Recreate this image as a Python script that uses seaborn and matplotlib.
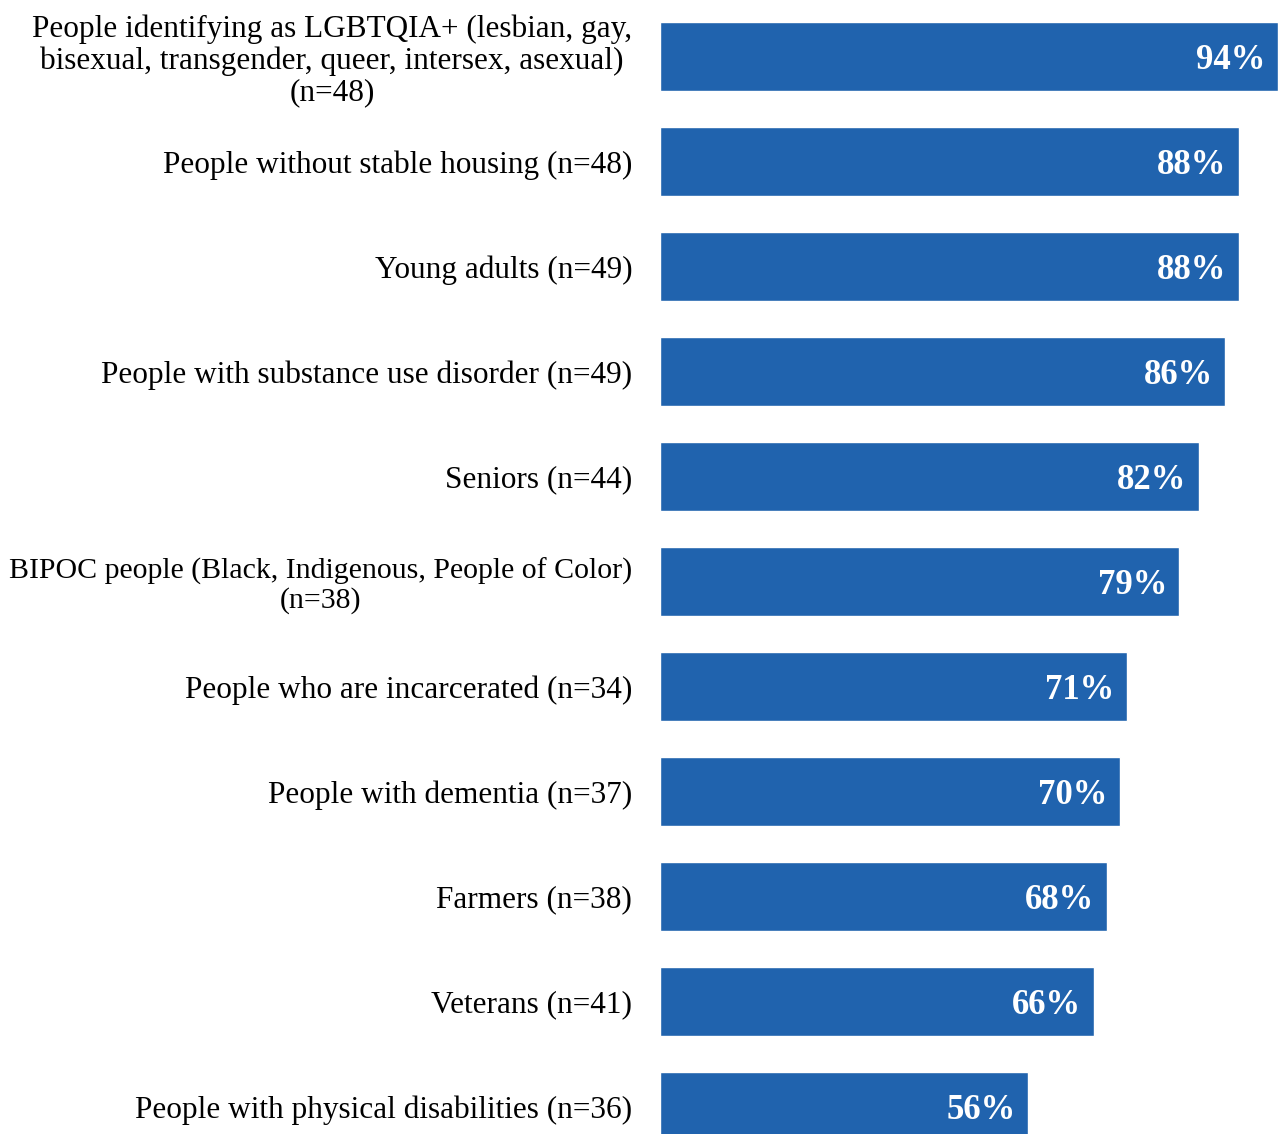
import seaborn as sns
from matplotlib import pyplot as plt
import pandas as pd

# categories (top to bottom) and percentages
groups = [
    "People identifying as LGBTQIA+ (lesbian, gay,\nbisexual, transgender, queer, intersex, asexual)\n(n=48)",
    "People without stable housing (n=48)",
    "Young adults (n=49)",
    "People with substance use disorder (n=49)",
    "Seniors (n=44)",
    "BIPOC people (Black, Indigenous, People of Color)\n(n=38)",
    "People who are incarcerated (n=34)",
    "People with dementia (n=37)",
    "Farmers (n=38)",
    "Veterans (n=41)",
    "People with physical disabilities (n=36)",
]
pct = [94, 88, 88, 86, 82, 79, 71, 70, 68, 66, 56]

df = pd.DataFrame({"group": groups, "pct": pct})

sns.set_style("white")
plt.rcParams['font.family'] = ['Liberation Serif', 'DejaVu Serif']

fig = plt.figure(figsize=(12.78, 11.34), dpi=100)
ax = fig.add_axes([660 / 1278, 0, 1 - 660 / 1278, 1])

sns.barplot(data=df, x="pct", y="group", orient="h", color="#2063AE",
            saturation=1, width=0.65, ax=ax)

for i, v in enumerate(pct):
    ax.text(v - 1.9, i + 0.04, f"{v}%", color="white", fontsize=25,
            fontweight="bold", ha="right", va="center")

ax.set_xlim(0, 94)
ax.set_ylim(10.262, -0.538)
ax.set_xlabel("")
ax.set_ylabel("")
ax.set_xticks([])
ax.tick_params(axis="y", length=0, pad=20, labelsize=22.5, labelcolor="black")
for lab in ax.get_yticklabels():
    lab.set_multialignment("center")
    lab.set_linespacing(1.1)
    if lab.get_text().startswith("BIPOC"):
        lab.set_fontsize(21.5)
sns.despine(ax=ax, left=True, bottom=True)

fig.savefig("out.png", dpi=100)
